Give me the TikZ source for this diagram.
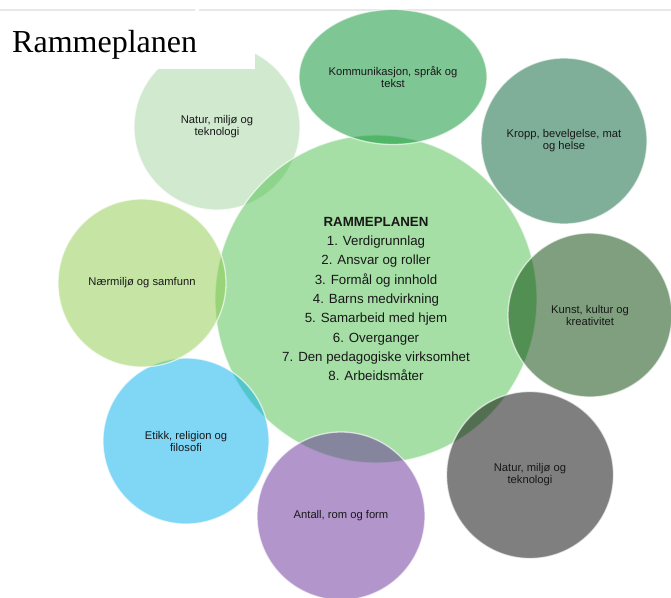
\documentclass[tikz,border=0pt]{standalone}
\usepackage{fontspec}
\setmainfont{Liberation Sans}
\newfontfamily\titlefont{Liberation Serif}
\usetikzlibrary{shapes.geometric}
\definecolor{cCen}{RGB}{77,193,77}
\definecolor{cKom}{RGB}{0,143,45}
\definecolor{cKro}{RGB}{1,97,53}
\definecolor{cKun}{RGB}{1,65,1}
\definecolor{cNat}{RGB}{0,0,0}
\definecolor{cAnt}{RGB}{103,45,153}
\definecolor{cEti}{RGB}{0,175,237}
\definecolor{cNaer}{RGB}{143,205,77}
\definecolor{cNatL}{RGB}{163,213,161}
\definecolor{txt}{RGB}{24,24,24}
\definecolor{topline}{RGB}{232,232,232}
\begin{document}
\begin{tikzpicture}[x=1pt,y=-1pt,
  bub/.style={circle, inner sep=0pt, fill opacity=0.5, text opacity=1,
    draw=white, draw opacity=0.65, line width=1.3pt, align=center, text=txt,
    font=\fontsize{11.2}{12}\selectfont, minimum size=#1},
  bubE/.style 2 args={ellipse, inner sep=0pt, fill opacity=0.5, text opacity=1,
    draw=white, draw opacity=0.65, line width=1.3pt, align=center, text=txt,
    font=\fontsize{11.2}{12}\selectfont, minimum width=#1, minimum height=#2}]
\useasboundingbox (0,0) rectangle (671,597);
\fill[white] (0,0) rectangle (671,597);
% top rule
\draw[topline, line width=1.2pt] (0,10) -- (195,10);
\draw[topline, line width=1.2pt] (199,10) -- (671,10);
% light natur (partly hidden by title box)
\node[bub=166, fill=cNatL] (natl) at (217,127) {Natur, miljø og\\teknologi};
% title box
\fill[white] (0,13) rectangle (255,69);
\node[anchor=base west, inner sep=0pt, font=\titlefont\fontsize{32}{36}\selectfont] (title) at (12,52) {Rammeplanen};
% central
\node[bubE={322}{328}, fill=cCen, font=\fontsize{13.3}{19.3}\selectfont] (cen) at (376,299)
  {\textbf{RAMMEPLANEN}\\1. Verdigrunnlag\\2. Ansvar og roller\\3. Formål og innhold\\4. Barns medvirkning\\5. Samarbeid med hjem\\6. Overganger\\7. Den pedagogiske virksomhet\\8. Arbeidsmåter};
% satellites
\node[bubE={188}{135}, fill=cKom] (kom) at (393,77) {Kommunikasjon, språk og\\tekst};
\node[bub=166, fill=cKro] (kro) at (564,141) {Kropp, bevelgelse, mat\\og helse};
\node[bub=164, fill=cKun] (kun) at (590,315) {Kunst, kultur og\\kreativitet};
\node[bub=167, fill=cNat] (nat) at (530,475) {Natur, miljø og\\teknologi};
\node[bub=168, fill=cAnt] (ant) at (341,516) {Antall, rom og form};
\node[bub=166, fill=cEti] (eti) at (186,441) {Etikk, religion og\\filosofi};
\node[bub=168, fill=cNaer] (naer) at (142,283) {Nærmiljø og samfunn};
\end{tikzpicture}
\end{document}
